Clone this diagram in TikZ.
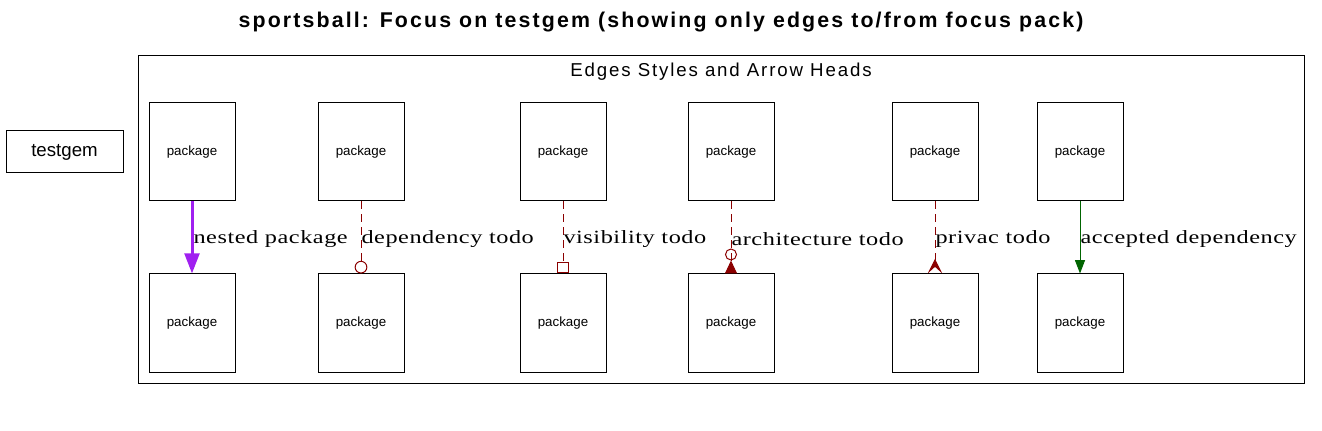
\documentclass[tikz,border=0pt]{standalone}
\usepackage{fontspec}
\newfontfamily\arialfont{Liberation Sans}
\newfontfamily\spacedsans[LetterSpace=10]{Liberation Sans}
\newfontfamily\edgefont[FakeStretch=1.3, LetterSpace=3]{Liberation Serif}
\usetikzlibrary{arrows.meta, positioning}
\definecolor{pkgpurple}{RGB}{160,32,240}
\definecolor{todored}{RGB}{139,0,0}
\definecolor{okgreen}{RGB}{0,100,0}

\begin{document}
\begin{tikzpicture}[
    x=0.75pt, y=-0.75pt,
    pkg/.style={rectangle, draw, line width=0.75pt, minimum width=64.5pt, minimum height=73.5pt, inner sep=0pt, font=\arialfont\fontsize{10}{12}\selectfont},
    lbl/.style={midway, right, inner sep=0pt, yshift=-1pt, text=black, font=\edgefont\fontsize{14}{17}\selectfont},
    todo/.style={draw=todored, line width=0.75pt, dash pattern=on 6pt off 3.75pt},
    node distance=54pt,
]
\useasboundingbox (0,0) rectangle (1322,431);

\node[font=\spacedsans\bfseries\fontsize{16}{19}\selectfont] (title) at (661,22) {sportsball: Focus on testgem (showing only edges to/from focus pack)};
\node[draw, line width=0.75pt, minimum width=87.75pt, minimum height=31.5pt, font=\arialfont\fontsize{14}{17}\selectfont] (testgem) at (64.5,152) {testgem};

% cluster frame
\node[draw, line width=0.75pt, minimum width=874.5pt, minimum height=245.25pt, inner sep=0pt] (edges) at (721,219.5) {};
\node[font=\spacedsans\fontsize{14}{17}\selectfont] (edgeslabel) at (721,72) {Edges Styles and Arrow Heads};

\node[pkg] (nestedtop) at (192,152) {package};
\node[pkg] (deptop) at (361,152) {package};
\node[pkg] (vistop) at (563,152) {package};
\node[pkg] (archtop) at (731,152) {package};
\node[pkg] (privtop) at (935,152) {package};
\node[pkg] (acctop) at (1080,152) {package};

\node[pkg, below=of nestedtop] (nestedbot) {package};
\node[pkg, below=of deptop] (depbot) {package};
\node[pkg, below=of vistop] (visbot) {package};
\node[pkg, below=of archtop] (archbot) {package};
\node[pkg, below=of privtop] (privbot) {package};
\node[pkg, below=of acctop] (accbot) {package};

\draw[pkgpurple, line width=2.25pt, -{Triangle[length=15pt, width=11pt]}] (nestedtop) -- node[lbl] {nested package} (nestedbot);
\draw[todo, -{Circle[open, length=9.5pt, width=9.5pt]}] (deptop) -- node[lbl] {dependency todo} (depbot);
\draw[todo, -{Square[open, length=8.5pt, width=8.5pt]}] (vistop) -- node[lbl] {visibility todo} (visbot);
\draw[todo, -{Circle[open, length=9pt, width=9pt, sep=0pt] Triangle[reversed, length=9.75pt, width=9pt]}] (archtop) -- node[lbl] {architecture todo} (archbot);
\draw[todo, -{Stealth[reversed, length=11pt, width=11pt, inset=5pt]}] (privtop) -- node[lbl] {privac todo} (privbot);
\draw[okgreen, line width=0.75pt, -{Triangle[length=10pt, width=7.5pt]}] (acctop) -- node[lbl] {accepted dependency} (accbot);
\end{tikzpicture}
\end{document}
